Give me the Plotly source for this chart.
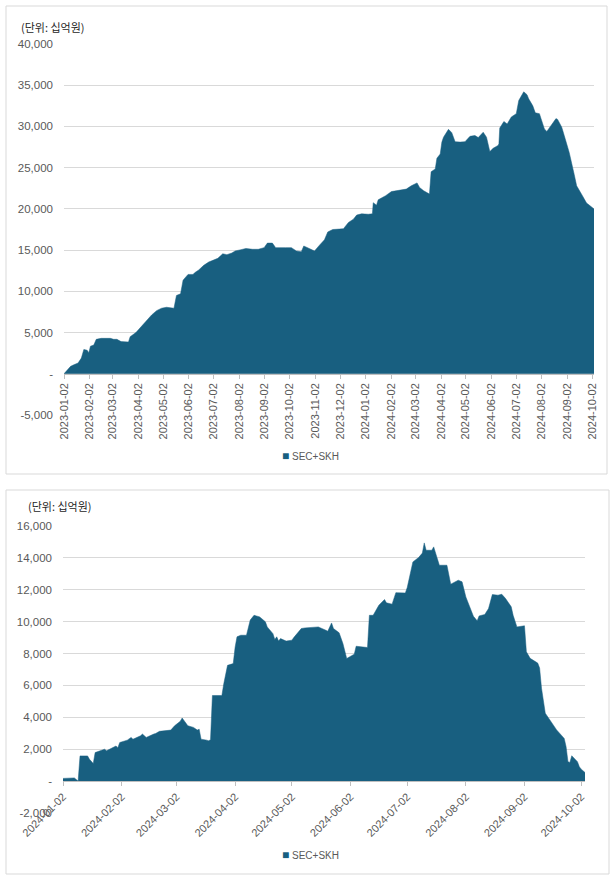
import plotly.graph_objects as go

# ---------------- data ----------------
top_dates = [
    "2023-01-02", "2023-01-10", "2023-01-14", "2023-01-19", "2023-01-23", "2023-01-26", "2023-01-30",
    "2023-02-01", "2023-02-03", "2023-02-07", "2023-02-10", "2023-02-16", "2023-02-27", "2023-03-03",
    "2023-03-07", "2023-03-12", "2023-03-21", "2023-03-23", "2023-03-30", "2023-04-06", "2023-04-12",
    "2023-04-18", "2023-04-24", "2023-04-30", "2023-05-06", "2023-05-15", "2023-05-18", "2023-05-23",
    "2023-05-26", "2023-06-01", "2023-06-07", "2023-06-09", "2023-06-14", "2023-06-20",
    "2023-06-26", "2023-07-03", "2023-07-07", "2023-07-13", "2023-07-18", "2023-07-24", "2023-07-28",
    "2023-08-04", "2023-08-10", "2023-08-18", "2023-08-25", "2023-09-01", "2023-09-05", "2023-09-11",
    "2023-09-15", "2023-09-27", "2023-10-04", "2023-10-10", "2023-10-16", "2023-10-19", "2023-10-23",
    "2023-11-01", "2023-11-07", "2023-11-13", "2023-11-17", "2023-11-23", "2023-12-01", "2023-12-06",
    "2023-12-12", "2023-12-18", "2023-12-22", "2023-12-28", "2024-01-05", "2024-01-10", "2024-01-11",
    "2024-01-15", "2024-01-17", "2024-01-22", "2024-01-26", "2024-02-02", "2024-02-08", "2024-02-14",
    "2024-02-20", "2024-02-26", "2024-03-04", "2024-03-07", "2024-03-12", "2024-03-19", "2024-03-21",
    "2024-03-26", "2024-03-28", "2024-04-01", "2024-04-03", "2024-04-05", "2024-04-11", "2024-04-15",
    "2024-04-19", "2024-04-25", "2024-05-01", "2024-05-07", "2024-05-13", "2024-05-17", "2024-05-23",
    "2024-05-27", "2024-05-31", "2024-06-04", "2024-06-10", "2024-06-11", "2024-06-12", "2024-06-17",
    "2024-06-21", "2024-06-26", "2024-07-02", "2024-07-05", "2024-07-11", "2024-07-15", "2024-07-17",
    "2024-07-22", "2024-07-25", "2024-07-30", "2024-08-05", "2024-08-08", "2024-08-13", "2024-08-19",
    "2024-08-21", "2024-08-26", "2024-08-29", "2024-09-04", "2024-09-10", "2024-09-13", "2024-09-20",
    "2024-09-25", "2024-09-27", "2024-10-02", "2024-10-04",
]
top_values = [
    0, 900, 1100, 1300, 1900, 2950, 2850,
    2550, 3350, 3480, 4180, 4300, 4300, 4180,
    4180, 3900, 3850, 4500, 5000, 5800, 6430,
    7130, 7660, 7950, 8070, 7950, 9500, 9700,
    11350, 12050, 12050, 12250, 12600, 13150,
    13550, 13800, 14000, 14550, 14450, 14650, 14900,
    15050, 15200, 15100, 15100, 15300, 15850, 15850,
    15300, 15300, 15300, 14900, 14800, 15500, 15300,
    14900, 15600, 16250, 17200, 17500, 17550, 17600,
    18350, 18750, 19250, 19400, 19350, 19400, 20750,
    20450, 21100, 21350, 21600, 22100, 22200, 22300,
    22400, 22800, 23150, 22600, 22200, 21800, 24500,
    24850, 26150, 26650, 28100, 28700, 29650, 29250,
    28150, 28100, 28150, 28800, 28900, 28650, 29300,
    28700, 26950, 27350, 27700, 27900, 29800, 30600,
    30300, 31150, 31550, 33150, 34200, 33850, 33350,
    32500, 31650, 31550, 29700, 29400, 30100, 30950,
    30850, 29900, 28900, 26850, 24200, 22800, 21600,
    20700, 20550, 20150, 20000,
]

bot_dates = [
    "2024-01-02", "2024-01-05", "2024-01-08", "2024-01-09", "2024-01-10", "2024-01-11", "2024-01-15",
    "2024-01-16", "2024-01-18", "2024-01-19", "2024-01-22", "2024-01-24", "2024-01-25", "2024-01-29",
    "2024-01-30", "2024-01-31", "2024-02-01", "2024-02-05", "2024-02-07", "2024-02-08", "2024-02-12",
    "2024-02-13", "2024-02-15", "2024-02-19", "2024-02-20", "2024-02-22", "2024-02-26", "2024-02-28",
    "2024-03-01", "2024-03-04", "2024-03-05", "2024-03-07", "2024-03-08", "2024-03-11", "2024-03-13",
    "2024-03-14", "2024-03-15", "2024-03-18", "2024-03-19", "2024-03-20", "2024-03-21", "2024-03-26",
    "2024-03-27", "2024-03-29", "2024-04-01", "2024-04-02", "2024-04-03", "2024-04-05", "2024-04-08",
    "2024-04-10", "2024-04-12", "2024-04-15", "2024-04-18", "2024-04-19", "2024-04-22", "2024-04-23",
    "2024-04-24", "2024-04-25", "2024-04-26", "2024-04-29", "2024-05-02", "2024-05-03", "2024-05-07",
    "2024-05-09", "2024-05-13", "2024-05-16", "2024-05-20", "2024-05-21", "2024-05-23", "2024-05-24",
    "2024-05-27", "2024-05-29", "2024-05-31", "2024-06-03", "2024-06-04", "2024-06-05", "2024-06-10",
    "2024-06-11", "2024-06-12", "2024-06-14", "2024-06-17", "2024-06-20", "2024-06-21", "2024-06-24",
    "2024-06-26", "2024-07-01", "2024-07-02", "2024-07-05", "2024-07-08", "2024-07-10", "2024-07-11",
    "2024-07-12", "2024-07-15", "2024-07-16", "2024-07-19", "2024-07-23", "2024-07-25", "2024-07-29",
    "2024-07-31", "2024-08-02", "2024-08-06", "2024-08-08", "2024-08-09", "2024-08-12", "2024-08-14",
    "2024-08-16", "2024-08-19", "2024-08-21", "2024-08-23", "2024-08-26", "2024-08-27", "2024-08-29",
    "2024-09-02", "2024-09-03", "2024-09-05", "2024-09-09", "2024-09-10", "2024-09-11", "2024-09-13",
    "2024-09-16", "2024-09-19", "2024-09-23", "2024-09-24", "2024-09-25", "2024-09-26", "2024-09-27",
    "2024-09-30", "2024-10-01", "2024-10-02", "2024-10-04",
]
bot_values = [
    170, 170, 200, 100, 0, 1580, 1580,
    1370, 1100, 1790, 1900, 2000, 1900, 2100,
    2200, 2100, 2420, 2570, 2740, 2630, 2840,
    2950, 2740, 2950, 2990, 3120, 3200, 3200,
    3470, 3750, 3960, 3580, 3470, 3370, 3200,
    3260, 2630, 2570, 2530, 2600, 5370, 5370,
    6100, 7260, 7370, 8400, 9050, 9150, 9150,
    10100, 10400, 10300, 9990, 9670, 9250, 8880,
    9050, 8780, 8940, 8780, 8840, 9000, 9570,
    9610, 9630, 9670, 9460, 9400, 9920, 9570,
    9300, 8630, 7690, 7900, 7960, 8460, 8420,
    8380, 10400, 10400, 11030, 11390, 11180, 11100,
    11820, 11800, 12140, 13750, 14020, 14300, 14940,
    14480, 14480, 14690, 13540, 13540, 12350, 12600,
    12500, 11550, 10340, 10050, 10360, 10450, 10820,
    11700, 11660, 11720, 11450, 10930, 10400, 9670,
    9740, 8110, 7700, 7400, 7090, 5830, 4260,
    3730, 3210, 2680, 2160, 1220, 1170, 1590,
    1220, 900, 750, 540,
]

top_ytickvals = [-5000, 0, 5000, 10000, 15000, 20000, 25000, 30000, 35000, 40000]
top_yticktext = ["-5,000", "-", "5,000", "10,000", "15,000", "20,000", "25,000", "30,000", "35,000", "40,000"]
bot_ytickvals = [-2000, 0, 2000, 4000, 6000, 8000, 10000, 12000, 14000, 16000]
bot_yticktext = ["-2,000", "-", "2,000", "4,000", "6,000", "8,000", "10,000", "12,000", "14,000", "16,000"]

series_name = "SEC+SKH"
unit_label = "(단위: 십억원)"

# ---------------- figure ----------------
W, H = 612, 879
COLOR = "#185f80"
GRID = "#d9d9d9"
TXT = "#595959"
FONT = "Liberation Sans, Arial, sans-serif"


def py(p):
    return 1 - p / H


def px(p):
    return p / W


fig = go.Figure()
fig.add_trace(go.Scatter(
    x=top_dates, y=top_values, mode="lines", line=dict(width=0.5, color=COLOR),
    fill="tozeroy", fillcolor=COLOR, name=series_name, xaxis="x", yaxis="y",
    showlegend=False, hoverinfo="skip"))
fig.add_trace(go.Scatter(
    x=bot_dates, y=bot_values, mode="lines", line=dict(width=0.5, color=COLOR),
    fill="tozeroy", fillcolor=COLOR, name=series_name, xaxis="x2", yaxis="y2",
    showlegend=False, hoverinfo="skip"))

# top panel geometry
t_y0, t_y1 = py(415), py(44)
t_zero = t_y0 + (t_y1 - t_y0) * 5000 / 45000
# bottom panel geometry
b_y0, b_y1 = py(813), py(526)
b_zero = b_y0 + (b_y1 - b_y0) * 2000 / 18000

tickfont = dict(family=FONT, size=11, color=TXT)

xcommon = dict(type="date", dtick="M1", tickformat="%Y-%m-%d", showline=True,
               linecolor="#bfbfbf", linewidth=1, ticks="outside", ticklen=4,
               tickcolor="#bfbfbf", showgrid=False, zeroline=False,
               tickfont=tickfont, automargin=False, anchor="free")
ycommon = dict(showgrid=True, gridcolor=GRID, gridwidth=1, zeroline=False,
               showline=False, ticks="", tickfont=dict(family=FONT, size=11.5, color=TXT),
               automargin=False, ticklabelstandoff=10)

legend_text = ("<span style='color:%s;font-size:12px'>■</span> %s" % (COLOR, series_name))

fig.update_layout(
    template="none",
    width=W, height=H, margin=dict(l=0, r=0, t=0, b=0, pad=0),
    paper_bgcolor="white", plot_bgcolor="white",
    font=dict(family=FONT, size=11, color=TXT),
    showlegend=False,
    xaxis=dict(domain=[px(64), px(594)], position=t_zero,
               range=["2023-01-02", "2024-10-04"], tick0="2023-01-02",
               tickangle=-90, **xcommon),
    yaxis=dict(domain=[t_y0, t_y1], anchor="x", range=[-5000, 40000],
               tickvals=top_ytickvals, ticktext=top_yticktext, **ycommon),
    xaxis2=dict(domain=[px(63), px(585)], position=b_zero,
                range=["2024-01-02", "2024-10-04"], tick0="2024-01-02",
                tickangle=-45, **xcommon),
    yaxis2=dict(domain=[b_y0, b_y1], anchor="x2", range=[-2000, 16000],
                tickvals=bot_ytickvals, ticktext=bot_yticktext, **ycommon),
    shapes=[
        dict(type="rect", xref="paper", yref="paper", x0=px(6), x1=px(607), y0=py(474), y1=py(6),
             line=dict(color=GRID, width=1), layer="below"),
        dict(type="rect", xref="paper", yref="paper", x0=px(6), x1=px(609), y0=py(874), y1=py(490),
             line=dict(color=GRID, width=1), layer="below"),
    ],
    annotations=[
        dict(text=unit_label, x=px(19), y=py(27), xref="paper", yref="paper",
             xanchor="left", yanchor="middle", showarrow=False,
             font=dict(family="Noto Sans CJK KR, sans-serif", size=11, color="#262626")),
        dict(text=unit_label, x=px(26), y=py(506), xref="paper", yref="paper",
             xanchor="left", yanchor="middle", showarrow=False,
             font=dict(family="Noto Sans CJK KR, sans-serif", size=11, color="#262626")),
        dict(text=legend_text, x=px(310), y=py(456), xref="paper", yref="paper",
             xanchor="center", yanchor="middle", showarrow=False,
             font=dict(family=FONT, size=10, color=TXT)),
        dict(text=legend_text, x=px(310), y=py(855), xref="paper", yref="paper",
             xanchor="center", yanchor="middle", showarrow=False,
             font=dict(family=FONT, size=10, color=TXT)),
    ],
)

fig.write_html(
    "out.html",
    config={"displayModeBar": False, "staticPlot": True},
    post_script="document.body.style.margin='0';document.body.style.overflow='hidden';",
)
